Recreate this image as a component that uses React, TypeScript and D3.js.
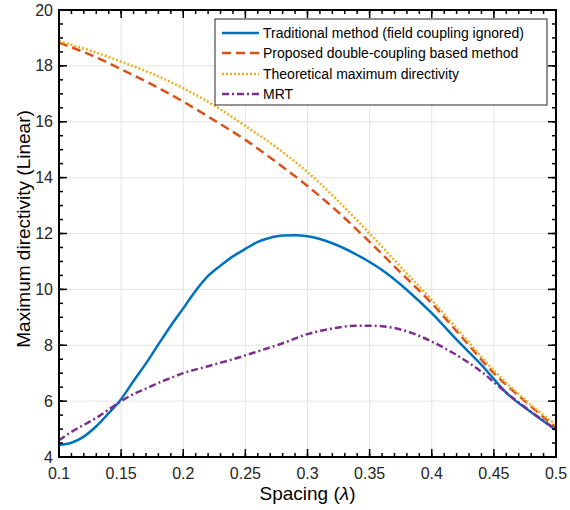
import React from 'react';
import { curveMonotoneX, line, range, scaleLinear } from 'd3';

const width = 570;
const height = 510;
const margin = { left: 59, right: 14, top: 10, bottom: 53 };

// traditional method (field coupling ignored)
const tradX = [0.1, 0.11, 0.12, 0.13, 0.14, 0.15, 0.16, 0.17, 0.18, 0.19, 0.2, 0.21, 0.22, 0.23, 0.24, 0.25, 0.26, 0.27, 0.28, 0.29, 0.3, 0.32, 0.34, 0.36, 0.38, 0.4, 0.42, 0.44, 0.46, 0.48, 0.5];
const tradY = [4.43, 4.51, 4.73, 5.1, 5.57, 6.07, 6.72, 7.35, 8.03, 8.7, 9.32, 9.95, 10.48, 10.85, 11.18, 11.45, 11.7, 11.85, 11.93, 11.94, 11.9, 11.65, 11.23, 10.69, 9.98, 9.15, 8.2, 7.3, 6.3, 5.6, 4.97];

// proposed + theoretical share the x grid
const fineX = [0.1, 0.125, 0.15, 0.175, 0.2, 0.225, 0.25, 0.275, 0.3, 0.325, 0.35, 0.375, 0.4, 0.425, 0.45, 0.475, 0.5];
const proposedY = [18.83, 18.4, 17.88, 17.33, 16.72, 16.05, 15.35, 14.55, 13.7, 12.75, 11.7, 10.6, 9.5, 8.25, 7.0, 6.0, 5.05];
const theoryY = [18.88, 18.55, 18.15, 17.72, 17.2, 16.58, 15.85, 15.08, 14.2, 13.15, 12.0, 10.8, 9.62, 8.35, 7.1, 6.05, 5.15];

const mrtX = [0.1, 0.11, 0.12, 0.13, 0.14, 0.15, 0.16, 0.17, 0.18, 0.19, 0.2, 0.22, 0.24, 0.26, 0.28, 0.3, 0.32, 0.34, 0.35, 0.36, 0.38, 0.4, 0.42, 0.44, 0.46, 0.48, 0.5];
const mrtY = [4.6, 4.9, 5.15, 5.4, 5.7, 6.0, 6.25, 6.45, 6.65, 6.83, 7.0, 7.25, 7.5, 7.78, 8.07, 8.4, 8.6, 8.7, 8.7, 8.68, 8.5, 8.13, 7.65, 7.05, 6.3, 5.62, 4.98];

const xTicks = [0.1, 0.15, 0.2, 0.25, 0.3, 0.35, 0.4, 0.45, 0.5];
const yTicks = [4, 6, 8, 10, 12, 14, 16, 18, 20];

const series = [
  { name: 'Traditional method (field coupling ignored)', xs: tradX, ys: tradY, color: '#0072BD', dash: undefined },
  { name: 'Proposed double-coupling based method', xs: fineX, ys: proposedY, color: '#D95319', dash: '9,5' },
  { name: 'Theoretical maximum directivity', xs: fineX, ys: theoryY, color: '#EDB120', dash: '2,2' },
  { name: 'MRT', xs: mrtX, ys: mrtY, color: '#7E2F8E', dash: '7,3,2,3' },
];

const font = "'Liberation Sans', Arial, Helvetica, sans-serif";
const left = margin.left;
const right = width - margin.right;
const top = margin.top;
const bottom = height - margin.bottom;

export default function App() {
  // absolute pixel scales, no group transform
  const x = scaleLinear().domain([0.1, 0.5]).range([left, right]);
  const y = scaleLinear().domain([4, 20]).range([bottom, top]);
  const gen = line<[number, number]>().x(d => x(d[0])).y(d => y(d[1])).curve(curveMonotoneX);

  const minorX = range(0, 41).map(i => 0.1 + i * 0.01);
  const minorY = range(0, 33).map(i => 4 + i * 0.5);
  const xt = [...minorX.map(v => ({ v, len: 4 })), ...xTicks.map(v => ({ v, len: 8 }))];
  const yt = [...minorY.map(v => ({ v, len: 4 })), ...yTicks.map(v => ({ v, len: 8 }))];

  const rowY = [14, 34, 55, 75];

  return (
    <svg width={width} height={height}
      style={{ position: 'absolute', left: 0, top: 0, background: '#fff' }}>
      {/* grid */}
      {xTicks.slice(1, -1).map(v => (
        <line key={'gx' + v} x1={x(v)} x2={x(v)} y1={top} y2={bottom} stroke="#e4e4e4" strokeWidth={1} />
      ))}
      {yTicks.slice(1, -1).map(v => (
        <line key={'gy' + v} x1={left} x2={right} y1={y(v)} y2={y(v)} stroke="#e4e4e4" strokeWidth={1} />
      ))}

      {/* series */}
      {series.map(s => (
        <path key={s.name}
          d={gen(s.xs.map((v, i) => [v, s.ys[i]] as [number, number])) || ''}
          fill="none" stroke={s.color} strokeWidth={2.5}
          strokeDasharray={s.dash} strokeLinejoin="round" />
      ))}

      {/* frame */}
      <rect x={left} y={top} width={right - left} height={bottom - top} fill="none" stroke="#000" strokeWidth={2} />

      {/* inward ticks, four sides */}
      {xt.map((t, i) => (
        <line key={'xb' + i} x1={x(t.v)} x2={x(t.v)} y1={bottom} y2={bottom - t.len} stroke="#000" strokeWidth={1.5} />
      ))}
      {xt.map((t, i) => (
        <line key={'xu' + i} x1={x(t.v)} x2={x(t.v)} y1={top} y2={top + t.len} stroke="#000" strokeWidth={1.5} />
      ))}
      {yt.map((t, i) => (
        <line key={'yl' + i} x1={left} x2={left + t.len} y1={y(t.v)} y2={y(t.v)} stroke="#000" strokeWidth={1.5} />
      ))}
      {yt.map((t, i) => (
        <line key={'yr' + i} x1={right} x2={right - t.len} y1={y(t.v)} y2={y(t.v)} stroke="#000" strokeWidth={1.5} />
      ))}

      {/* tick labels */}
      {xTicks.map(v => (
        <text key={'xlab' + v} x={x(v)} y={bottom + 22} textAnchor="middle"
          fontFamily={font} fontSize={16} fill="#262626">{String(v)}</text>
      ))}
      {yTicks.map(v => (
        <text key={'ylab' + v} x={left - 6} y={y(v)} dy="0.35em" textAnchor="end"
          fontFamily={font} fontSize={16} fill="#262626">{String(v)}</text>
      ))}

      {/* legend */}
      <g transform="translate(215,19)">
        <rect width={332} height={86} fill="#fff" stroke="#262626" strokeWidth={1} />
        {series.map((s, i) => (
          <g key={'lg' + i}>
            <line x1={7} x2={44} y1={rowY[i]} y2={rowY[i]} stroke={s.color} strokeWidth={2.5}
              strokeDasharray={s.dash} />
            <text x={48} y={rowY[i]} dy="0.35em" fontFamily={font} fontSize={14} fill="#000">{s.name}</text>
          </g>
        ))}
      </g>

      {/* axis titles */}
      <text x={(left + right) / 2} y={500} textAnchor="middle" fontFamily={font} fontSize={19} fill="#000">
        Spacing (<tspan fontStyle="italic">λ</tspan>)
      </text>
      <text transform="translate(30,229) rotate(-90)" textAnchor="middle" fontFamily={font} fontSize={19} fill="#000">
        Maximum directivity (Linear)
      </text>
    </svg>
  );
}
